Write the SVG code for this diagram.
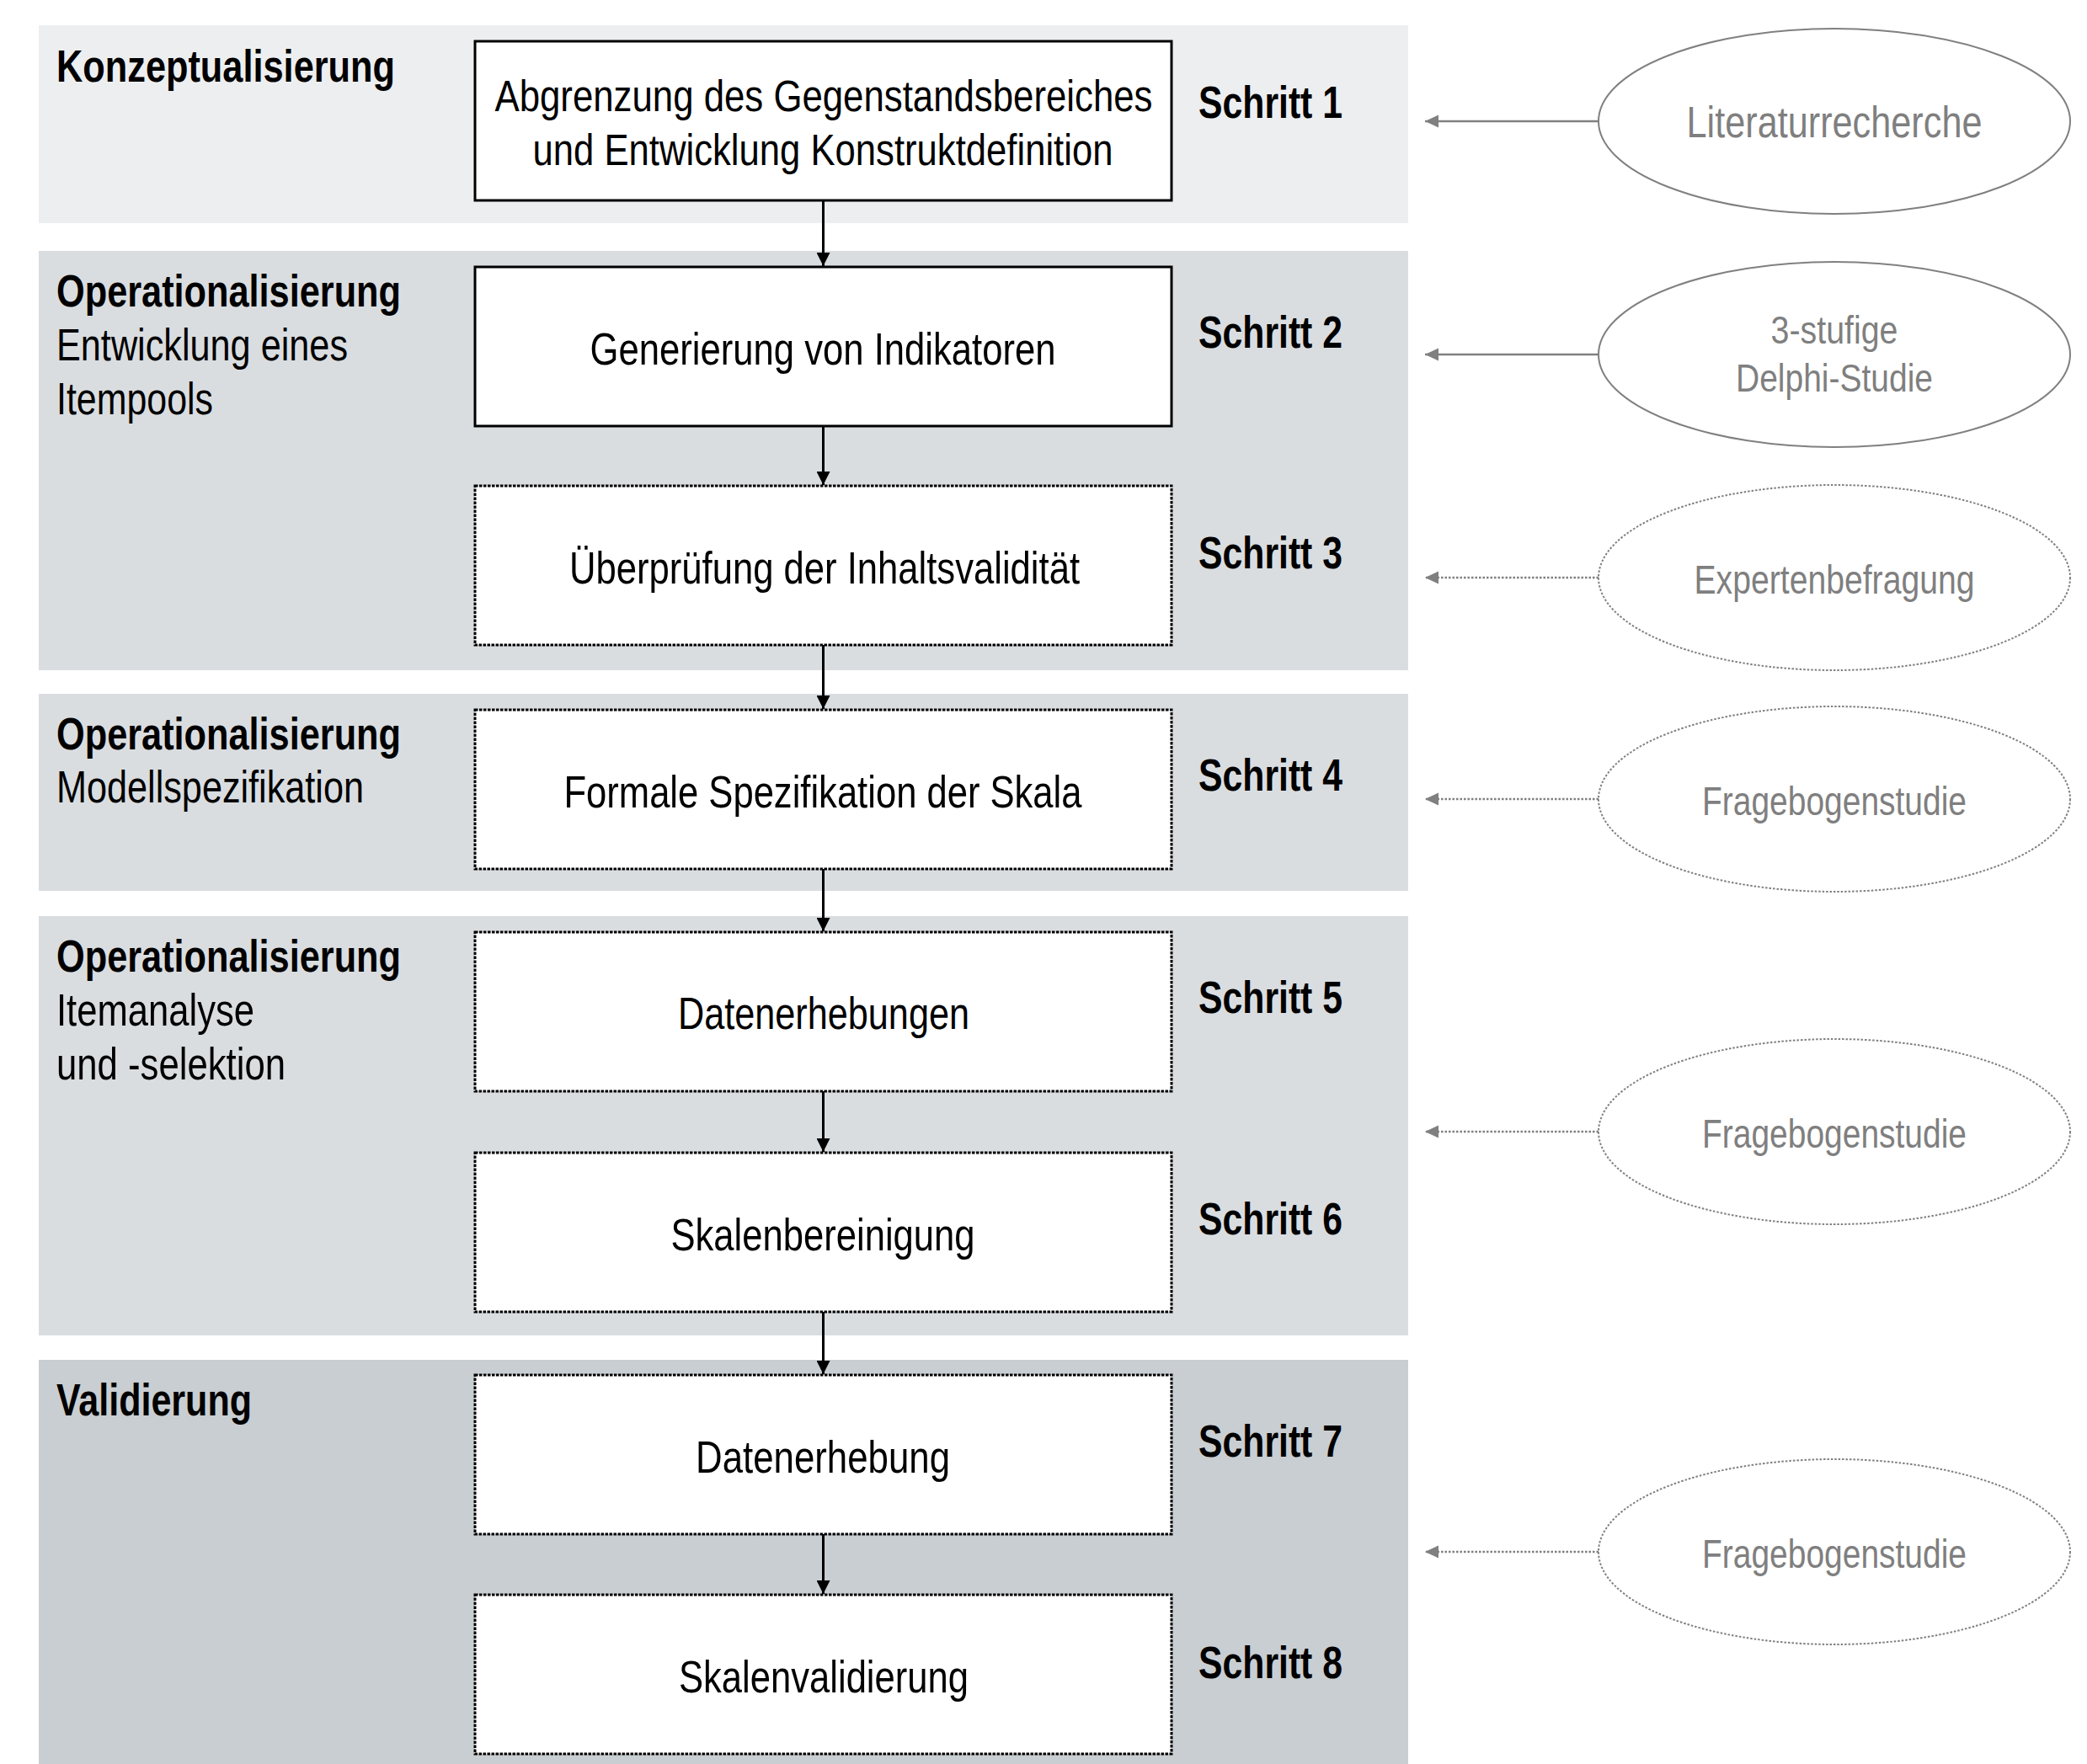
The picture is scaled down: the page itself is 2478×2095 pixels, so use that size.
<svg xmlns="http://www.w3.org/2000/svg" width="2478" height="2095" viewBox="0 0 2478 2095">
<style>
text{font-family:"Liberation Sans Narrow","Arial Narrow","Liberation Sans",Arial,sans-serif;}
.band1{fill:#EDEEF0}.band2{fill:#DADDE0}.band5{fill:#C9CED2}
.box{fill:#fff;stroke:#000;stroke-width:3}
.dot{stroke-dasharray:3.5 1.5}
.bt{font-size:53px;fill:#000;text-anchor:middle}
.st{font-size:53px;font-weight:bold;fill:#000}
.lb{font-size:53px;font-weight:bold;fill:#000}
.ln{font-size:53px;fill:#000}
.ell{fill:#fff;stroke:#808080;stroke-width:2}
.edot{stroke-dasharray:2.5 2}
.et{font-size:51px;fill:#7F7F7F;text-anchor:middle}
.va{stroke:#000;stroke-width:3;fill:none}
.ga{stroke:#808080;stroke-width:2.5;fill:none}
.gdot{stroke-dasharray:2.5 2}
</style>
<defs>
<marker id="ab" markerUnits="userSpaceOnUse" markerWidth="16" markerHeight="16" viewBox="0 0 16 16" refX="16" refY="8" orient="auto">
<path d="M0,0 L16,8 L0,16 Z" fill="#000"/>
</marker>
<marker id="ag" markerUnits="userSpaceOnUse" markerWidth="16" markerHeight="16" viewBox="0 0 16 16" refX="16" refY="8" orient="auto">
<path d="M0,0.5 L16,8 L0,15.5 Z" fill="#808080"/>
</marker>
</defs>
<rect width="2478" height="2095" fill="#fff"/>
<g id="bands">
<rect class="band1" x="46" y="30" width="1626" height="235"/>
<rect class="band2" x="46" y="298" width="1626" height="498"/>
<rect class="band2" x="46" y="824" width="1626" height="234"/>
<rect class="band2" x="46" y="1088" width="1626" height="498"/>
<rect class="band5" x="46" y="1615" width="1626" height="480"/>
</g>
<g id="phase-labels">
<text class="lb" x="67" y="97" textLength="402" lengthAdjust="spacingAndGlyphs">Konzeptualisierung</text>
<text class="lb" x="67" y="364" textLength="409" lengthAdjust="spacingAndGlyphs">Operationalisierung</text>
<text class="ln" x="67" y="428" textLength="346" lengthAdjust="spacingAndGlyphs">Entwicklung eines</text>
<text class="ln" x="67" y="492" textLength="186" lengthAdjust="spacingAndGlyphs">Itempools</text>
<text class="lb" x="67" y="890" textLength="409" lengthAdjust="spacingAndGlyphs">Operationalisierung</text>
<text class="ln" x="67" y="953" textLength="365" lengthAdjust="spacingAndGlyphs">Modellspezifikation</text>
<text class="lb" x="67" y="1154" textLength="409" lengthAdjust="spacingAndGlyphs">Operationalisierung</text>
<text class="ln" x="67" y="1218" textLength="235" lengthAdjust="spacingAndGlyphs">Itemanalyse</text>
<text class="ln" x="67" y="1282" textLength="272" lengthAdjust="spacingAndGlyphs">und -selektion</text>
<text class="lb" x="67" y="1681" textLength="232" lengthAdjust="spacingAndGlyphs">Validierung</text>
</g>
<g id="connectors">
<line class="va" x1="977.5" y1="238" x2="977.5" y2="316" marker-end="url(#ab)"/>
<line class="va" x1="977.5" y1="506" x2="977.5" y2="576" marker-end="url(#ab)"/>
<line class="va" x1="977.5" y1="766" x2="977.5" y2="842" marker-end="url(#ab)"/>
<line class="va" x1="977.5" y1="1032" x2="977.5" y2="1106" marker-end="url(#ab)"/>
<line class="va" x1="977.5" y1="1296" x2="977.5" y2="1368" marker-end="url(#ab)"/>
<line class="va" x1="977.5" y1="1558" x2="977.5" y2="1632" marker-end="url(#ab)"/>
<line class="va" x1="977.5" y1="1822" x2="977.5" y2="1893" marker-end="url(#ab)"/>
<line class="ga" x1="1898" y1="144" x2="1692" y2="144" marker-end="url(#ag)"/>
<line class="ga" x1="1898" y1="421" x2="1692" y2="421" marker-end="url(#ag)"/>
<line class="ga gdot" x1="1898" y1="686" x2="1692" y2="686" marker-end="url(#ag)"/>
<line class="ga gdot" x1="1898" y1="949" x2="1692" y2="949" marker-end="url(#ag)"/>
<line class="ga gdot" x1="1898" y1="1344" x2="1692" y2="1344" marker-end="url(#ag)"/>
<line class="ga gdot" x1="1898" y1="1843" x2="1692" y2="1843" marker-end="url(#ag)"/>
</g>
<g id="step1">
<rect class="box" x="564" y="49" width="827" height="189"/>
<text class="bt" x="978" y="132" style="font-size:51px" textLength="781" lengthAdjust="spacingAndGlyphs">Abgrenzung des Gegenstandsbereiches</text>
<text class="bt" x="977" y="196" style="font-size:51px" textLength="689" lengthAdjust="spacingAndGlyphs">und Entwicklung Konstruktdefinition</text>
<text class="st" x="1423" y="140" textLength="171" lengthAdjust="spacingAndGlyphs">Schritt 1</text>
</g>
<g id="step2">
<rect class="box" x="564" y="317" width="827" height="189"/>
<text class="bt" x="977" y="433" textLength="553" lengthAdjust="spacingAndGlyphs">Generierung von Indikatoren</text>
<text class="st" x="1423" y="413" textLength="171" lengthAdjust="spacingAndGlyphs">Schritt 2</text>
</g>
<g id="step3">
<rect class="box dot" x="564" y="577" width="827" height="189"/>
<text class="bt" x="979" y="693" textLength="606" lengthAdjust="spacingAndGlyphs">Überprüfung der Inhaltsvalidität</text>
<text class="st" x="1423" y="675" textLength="171" lengthAdjust="spacingAndGlyphs">Schritt 3</text>
</g>
<g id="step4">
<rect class="box dot" x="564" y="843" width="827" height="189"/>
<text class="bt" x="977" y="959" textLength="615" lengthAdjust="spacingAndGlyphs">Formale Spezifikation der Skala</text>
<text class="st" x="1423" y="939" textLength="171" lengthAdjust="spacingAndGlyphs">Schritt 4</text>
</g>
<g id="step5">
<rect class="box dot" x="564" y="1107" width="827" height="189"/>
<text class="bt" x="978" y="1222" textLength="346" lengthAdjust="spacingAndGlyphs">Datenerhebungen</text>
<text class="st" x="1423" y="1203" textLength="171" lengthAdjust="spacingAndGlyphs">Schritt 5</text>
</g>
<g id="step6">
<rect class="box dot" x="564" y="1369" width="827" height="189"/>
<text class="bt" x="977" y="1485" textLength="361" lengthAdjust="spacingAndGlyphs">Skalenbereinigung</text>
<text class="st" x="1423" y="1466" textLength="171" lengthAdjust="spacingAndGlyphs">Schritt 6</text>
</g>
<g id="step7">
<rect class="box dot" x="564" y="1633" width="827" height="189"/>
<text class="bt" x="977" y="1749" textLength="302" lengthAdjust="spacingAndGlyphs">Datenerhebung</text>
<text class="st" x="1423" y="1730" textLength="171" lengthAdjust="spacingAndGlyphs">Schritt 7</text>
</g>
<g id="step8">
<rect class="box dot" x="564" y="1894" width="827" height="189"/>
<text class="bt" x="978" y="2010" textLength="344" lengthAdjust="spacingAndGlyphs">Skalenvalidierung</text>
<text class="st" x="1423" y="1993" textLength="171" lengthAdjust="spacingAndGlyphs">Schritt 8</text>
</g>
<g id="source1">
<ellipse class="ell" cx="2178" cy="144" rx="280" ry="110"/>
<text class="et" x="2178" y="163" textLength="351" lengthAdjust="spacingAndGlyphs">Literaturrecherche</text>
</g>
<g id="source2">
<ellipse class="ell" cx="2178" cy="421" rx="280" ry="110"/>
<text class="et" x="2178" y="408" style="font-size:46px" textLength="151" lengthAdjust="spacingAndGlyphs">3-stufige</text>
<text class="et" x="2178" y="465" style="font-size:46px" textLength="234" lengthAdjust="spacingAndGlyphs">Delphi-Studie</text>
</g>
<g id="source3">
<ellipse class="ell edot" cx="2178" cy="686" rx="280" ry="110"/>
<text class="et" x="2178" y="705" style="font-size:48px" textLength="333" lengthAdjust="spacingAndGlyphs">Expertenbefragung</text>
</g>
<g id="source4">
<ellipse class="ell edot" cx="2178" cy="949" rx="280" ry="110"/>
<text class="et" x="2178" y="968" style="font-size:48px" textLength="314" lengthAdjust="spacingAndGlyphs">Fragebogenstudie</text>
</g>
<g id="source5">
<ellipse class="ell edot" cx="2178" cy="1344" rx="280" ry="110"/>
<text class="et" x="2178" y="1363" style="font-size:48px" textLength="314" lengthAdjust="spacingAndGlyphs">Fragebogenstudie</text>
</g>
<g id="source6">
<ellipse class="ell edot" cx="2178" cy="1843" rx="280" ry="110"/>
<text class="et" x="2178" y="1862" style="font-size:48px" textLength="314" lengthAdjust="spacingAndGlyphs">Fragebogenstudie</text>
</g>
</svg>
